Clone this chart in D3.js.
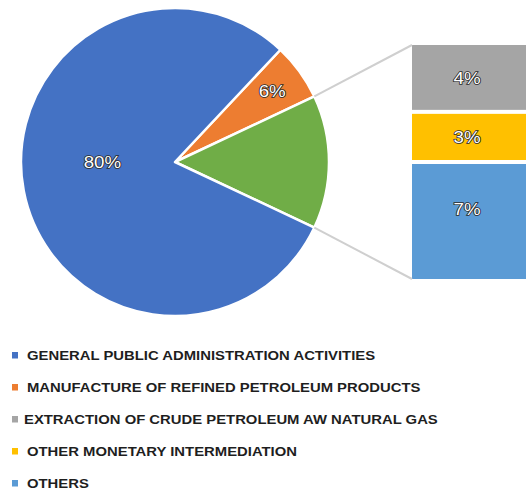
<!DOCTYPE html>
<html>
<head>
<meta charset="utf-8">
<script src="https://cdn.jsdelivr.net/npm/d3@7"></script>
<style>
  html, body { margin: 0; padding: 0; background: #fff; }
  svg { display: block; }
</style>
</head>
<body>
<svg id="chart" width="530" height="493"></svg>
<script>
// Pie slices (main) and the breakdown of the combined slice (bar)
const pieNames = ["MANUFACTURE OF REFINED PETROLEUM PRODUCTS", "OTHER", "GENERAL PUBLIC ADMINISTRATION ACTIVITIES"];
const pieValues = [6, 14, 80];
const pieColors = ["#ED7D31", "#70AD47", "#4472C4"];

const barNames = ["EXTRACTION OF CRUDE PETROLEUM AW NATURAL GAS", "OTHER MONETARY INTERMEDIATION", "OTHERS"];
const barValues = [4, 3, 7];
const barColors = ["#A5A5A5", "#FFC000", "#5B9BD5"];

const legendNames = [
  "GENERAL PUBLIC ADMINISTRATION ACTIVITIES",
  "MANUFACTURE OF REFINED PETROLEUM PRODUCTS",
  "EXTRACTION OF CRUDE PETROLEUM AW NATURAL GAS",
  "OTHER MONETARY INTERMEDIATION",
  "OTHERS"
];
const legendColors = ["#4472C4", "#ED7D31", "#A5A5A5", "#FFC000", "#5B9BD5"];

const svg = d3.select("#chart");
const cx = 175, cy = 162, r = 154;
const stretch = 1.1; // wide lettering

const total = d3.sum(pieValues);
// Rotate so the combined slice is centred on 3 o'clock
const startAngle = Math.PI / 2 - (pieValues[1] / total) * Math.PI - (pieValues[0] / total) * 2 * Math.PI;
const pie = d3.pie().sort(null).value(d => d)
  .startAngle(startAngle).endAngle(startAngle + 2 * Math.PI);
const arcs = pie(pieValues);
const arc = d3.arc().innerRadius(0).outerRadius(r);

const g = svg.append("g").attr("transform", `translate(${cx},${cy})`);
g.selectAll("path.slice").data(arcs).join("path")
  .attr("class", "slice")
  .attr("d", arc)
  .attr("fill", (d, i) => pieColors[i])
  .attr("stroke", "#fff")
  .attr("stroke-width", 2.5)
  .attr("stroke-linejoin", "round");

const labelStyle = sel => sel
  .attr("font-family", "Liberation Sans, Arial, sans-serif")
  .attr("font-size", 17)
  .attr("fill", "#fff")
  .attr("stroke", "#2a2a2a")
  .attr("stroke-width", 1.6)
  .attr("paint-order", "stroke")
  .attr("text-anchor", "middle")
  .attr("dominant-baseline", "central");

function putLabel(parent, x, y, txt) {
  parent.append("text")
    .attr("transform", `translate(${x},${y}) scale(${stretch},1)`)
    .text(txt).call(labelStyle);
}

// Pie labels (the combined slice carries none)
const labelRadius = [0.78, 0, 0.48];
arcs.forEach((a, i) => {
  if (i === 1) return;
  const la = d3.arc().innerRadius(r * labelRadius[i]).outerRadius(r * labelRadius[i]);
  const [x, y] = la.centroid(a);
  putLabel(g, x, i === 2 ? 0 : y, Math.round(pieValues[i] / total * 100) + "%");
});

// Bar of the combined slice
const bx0 = 412, bx1 = 526, by0 = 45, by1 = 279;
const y = d3.scaleLinear().domain([0, d3.sum(barValues)]).range([by0, by1]);
const stack = d3.cumsum(barValues);
const barG = svg.append("g");
barValues.forEach((v, i) => {
  const top = y(stack[i] - v), bot = y(stack[i]);
  barG.append("rect")
    .attr("x", bx0).attr("y", top + (i === 0 ? 0 : 2))
    .attr("width", bx1 - bx0)
    .attr("height", bot - top - (i === 0 ? 0 : 2) - (i === barValues.length - 1 ? 0 : 2))
    .attr("fill", barColors[i]);
  putLabel(barG, (bx0 + bx1) / 2 - 2,
    i === 2 ? top + (bot - top) * 0.4 : (top + bot) / 2,
    Math.round(v / total * 100) + "%");
});

// Connector lines from the combined slice to the bar
const a1 = arcs[1];
const p0 = [cx + r * Math.sin(a1.startAngle), cy - r * Math.cos(a1.startAngle)];
const p1 = [cx + r * Math.sin(a1.endAngle), cy - r * Math.cos(a1.endAngle)];
svg.append("line").attr("x1", p0[0]).attr("y1", p0[1]).attr("x2", bx0).attr("y2", by0)
  .attr("stroke", "#cfcfcf").attr("stroke-width", 2);
svg.append("line").attr("x1", p1[0]).attr("y1", p1[1]).attr("x2", bx0).attr("y2", by1)
  .attr("stroke", "#cfcfcf").attr("stroke-width", 2);

// Legend
const lg = svg.append("g");
const rowY = d3.scaleLinear().domain([0, legendNames.length - 1]).range([355, 483]);
legendNames.forEach((name, i) => {
  const yy = rowY(i);
  lg.append("rect").attr("x", 12).attr("y", yy - 3).attr("width", 6).attr("height", 6.5)
    .attr("fill", legendColors[i]);
  lg.append("text")
    .attr("transform", `translate(${i === 2 ? 24 : 27},${yy}) scale(${stretch},1)`)
    .attr("dominant-baseline", "central")
    .attr("font-family", "Liberation Sans, Arial, sans-serif")
    .attr("font-weight", "bold").attr("font-size", 13.5)
    .attr("fill", "#1e1e1e")
    .text(name);
});
</script>
</body>
</html>
